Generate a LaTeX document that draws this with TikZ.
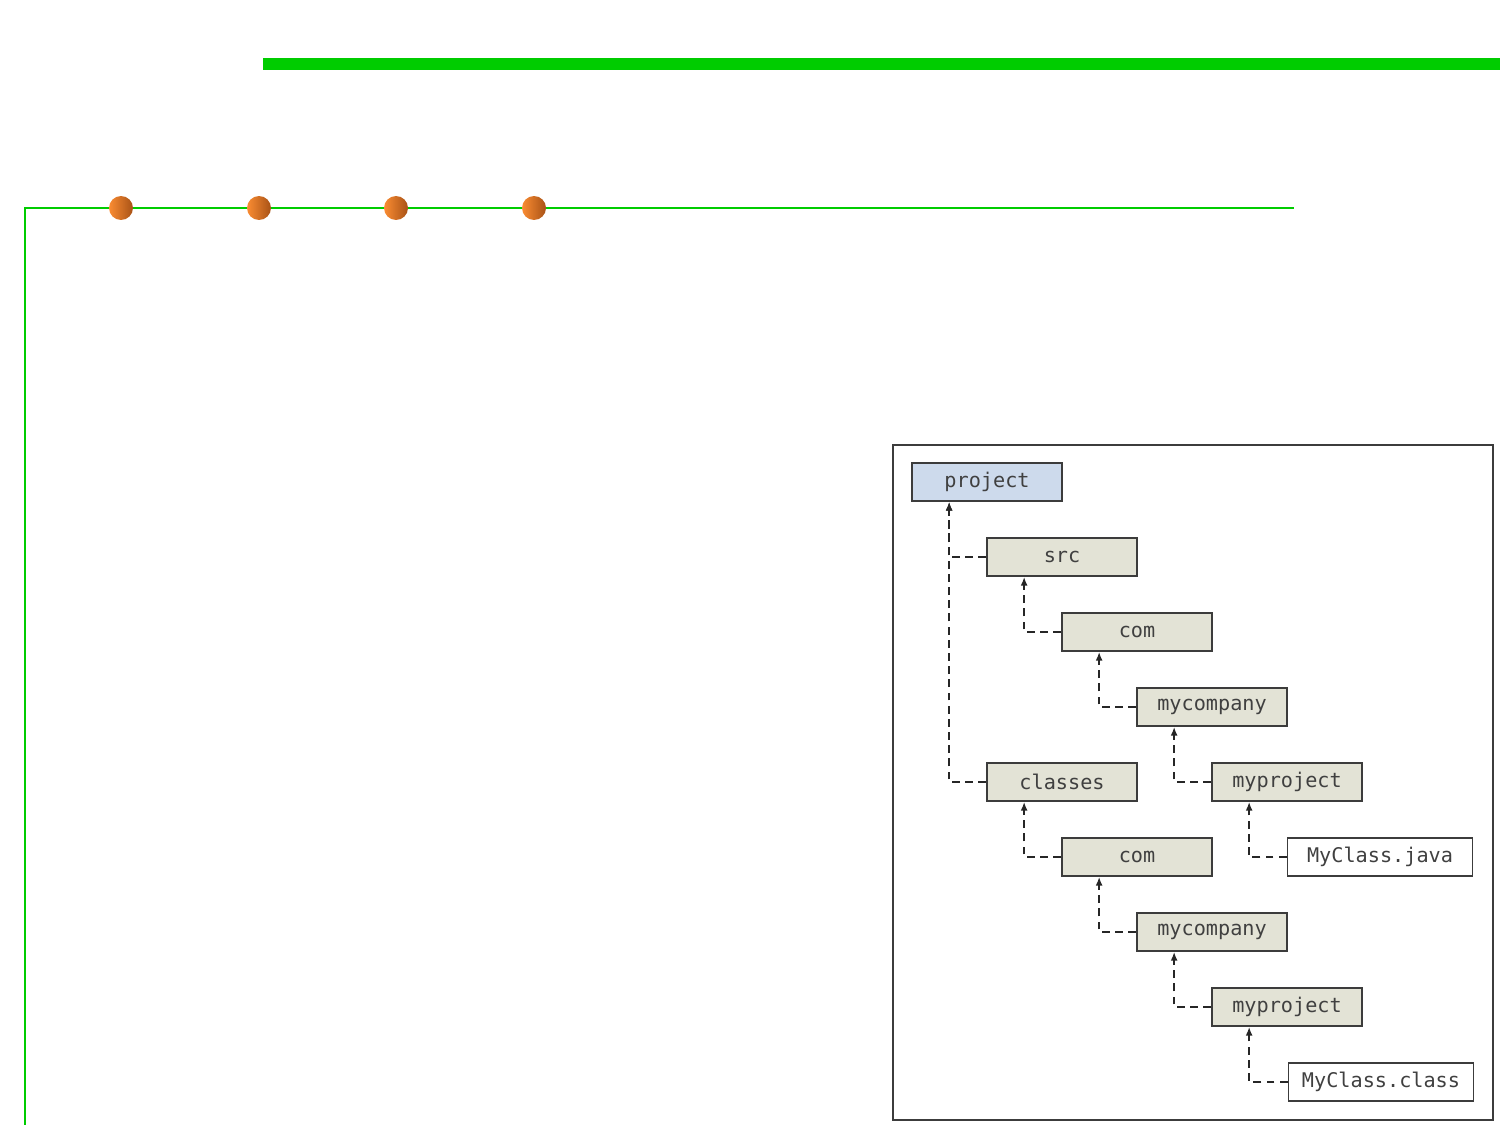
\documentclass[tikz,border=0pt]{standalone}
\usepackage{fontspec}
\setmonofont{DejaVu Sans Mono}
\usetikzlibrary{arrows.meta}

\definecolor{barGreen}{RGB}{0,204,0}
\definecolor{dirFill}{RGB}{227,227,214}
\definecolor{rootFill}{RGB}{205,218,236}
\definecolor{boxLine}{RGB}{60,60,60}
\definecolor{dotLight}{RGB}{250,140,50}
\definecolor{dotDark}{RGB}{168,82,22}

\tikzset{
  dir/.style={draw=boxLine, line width=1pt, fill=dirFill, minimum width=3cm,
    minimum height=0.76cm, inner sep=0pt, text=black!75,
    font=\ttfamily\fontsize{11.5}{12}\selectfont},
  rootdir/.style={dir, fill=rootFill},
  file/.style={dir, fill=white, minimum width=3.7cm},
  link/.style={draw=black!85, line width=1pt, dash pattern=on 4.5pt off 3pt,
    -{Latex[length=5pt,width=4pt]}},
  dot/.style={circle, minimum size=0.48cm, inner sep=0pt, shading=axis,
    left color=dotLight, right color=dotDark}
}

\begin{document}
\begin{tikzpicture}[x=0.02cm, y=-0.02cm]
  \useasboundingbox (0,0) rectangle (1500,1125);

  % green bars
  \fill[barGreen] (263,58) rectangle (1500,70);
  \draw[barGreen, line width=1.2pt] (25,1125) -- (25,208) -- (1294,208);
  \foreach \i/\x in {1/121, 2/259, 3/396, 4/534}
    \node[dot] (dot\i) at (\x,208) {};

  % frame
  \draw[boxLine, line width=1.1pt] (893,445) rectangle (1493,1120);

  % directory tree
  \node[rootdir] (project) at (987,482) {project};
  \node[dir] (src) at (1062,557) {src};
  \node[dir] (srccom) at (1137,632) {com};
  \node[dir] (srccompany) at (1212,707) {mycompany};
  \node[dir] (srcproject) at (1287,782) {myproject};
  \node[file] (javafile) at (1380,857) {MyClass.java};
  \node[dir] (classes) at (1062,782) {classes};
  \node[dir] (clscom) at (1137,857) {com};
  \node[dir] (clscompany) at (1212,932) {mycompany};
  \node[dir] (clsproject) at (1287,1007) {myproject};
  \node[file] (classfile) at (1381,1082) {MyClass.class};

  \foreach \child/\parent in {src/project, classes/project, srccom/src,
      srccompany/srccom, srcproject/srccompany, javafile/srcproject,
      clscom/classes, clscompany/clscom, clsproject/clscompany, classfile/clsproject}
    \draw[link] (\child.west) -| ([xshift=0.76cm]\parent.south west);
\end{tikzpicture}
\end{document}
